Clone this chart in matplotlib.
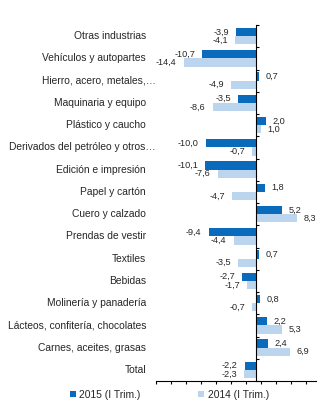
import numpy as np
import matplotlib
matplotlib.use("Agg")
import matplotlib.pyplot as plt
from matplotlib.transforms import blended_transform_factory

# DATOS
categorias = [
    "Otras industrias",
    "Vehículos y autopartes",
    "Hierro, acero, metales,…",
    "Maquinaria y equipo",
    "Plástico y caucho",
    "Derivados del petróleo y otros…",
    "Edición e impresión",
    "Papel y cartón",
    "Cuero y calzado",
    "Prendas de vestir",
    "Textiles",
    "Bebidas",
    "Molinería y panadería",
    "Lácteos, confitería, chocolates",
    "Carnes, aceites, grasas",
    "Total",
]
v2015 = [-3.9, -10.7, 0.7, -3.5, 2.0, -10.0, -10.1, 1.8, 5.2, -9.4, 0.7, -2.7, 0.8, 2.2, 2.4, -2.2]
v2014 = [-4.1, -14.4, -4.9, -8.6, 1.0, -0.7, -7.6, -4.7, 8.3, -4.4, -3.5, -1.7, -0.7, 5.3, 6.9, -2.3]
serie1 = "2015 (I Trim.)"
serie2 = "2014 (I Trim.)"

plt.rcParams["font.family"] = ["Liberation Sans", "DejaVu Sans"]
texto = "#262626"
azul = "#0A6BBD"
celeste = "#BCD5EE"

fig = plt.figure(figsize=(3.29, 4.03), dpi=100)
ax = fig.add_axes([155.5 / 329, 1 - 381 / 403, 160 / 329, 356 / 403])

y = np.arange(len(categorias))
h = 0.375
ax.barh(y - h / 2, v2015, height=h, color=azul, label=serie1)
ax.barh(y + h / 2, v2014, height=h, color=celeste, label=serie2)

ax.set_xlim(-20, 12)
ax.set_ylim(len(categorias) - 0.5, -0.5)
ax.set_xticks(np.arange(-20, 12, 3))
ax.set_xticklabels([])
ax.set_yticks(np.arange(-0.5, len(categorias), 1))
ax.set_yticklabels([])

ax.spines["top"].set_visible(False)
ax.spines["right"].set_visible(False)
ax.spines["left"].set_position(("data", 0))
for s in ["left", "bottom"]:
    ax.spines[s].set_linewidth(0.8)
    ax.spines[s].set_color("black")
ax.tick_params(axis="x", direction="out", length=2.5, width=0.8)
ax.tick_params(axis="y", direction="in", length=2.5, width=0.8)

# ETIQUETAS DE CATEGORIAS
trans = blended_transform_factory(fig.transFigure, ax.transData)
for i, cat in enumerate(categorias):
    xpos = 156 if cat.endswith("…") else 146
    ax.text(xpos / 329, i, cat, transform=trans, ha="right", va="center",
            fontsize=7.4, color=texto)

# ETIQUETAS DE VALORES
def fmt(v):
    return f"{v:.1f}".replace(".", ",")

for vals, off in [(v2015, -h / 2), (v2014, h / 2)]:
    for i, v in enumerate(vals):
        dx = 5 if v >= 0 else -5
        ax.annotate(fmt(v), (v, i + off), xytext=(dx, 0), textcoords="offset points",
                    ha="left" if v >= 0 else "right", va="center",
                    fontsize=6.6, color=texto)

fig.legend(loc="center", bbox_to_anchor=(0.515, 0.021), ncol=2, frameon=False,
           fontsize=7.4, handlelength=0.6, handleheight=0.6, handletextpad=0.3,
           columnspacing=5.6, labelcolor=texto)

plt.savefig("out.png", dpi=100)
plt.close()
